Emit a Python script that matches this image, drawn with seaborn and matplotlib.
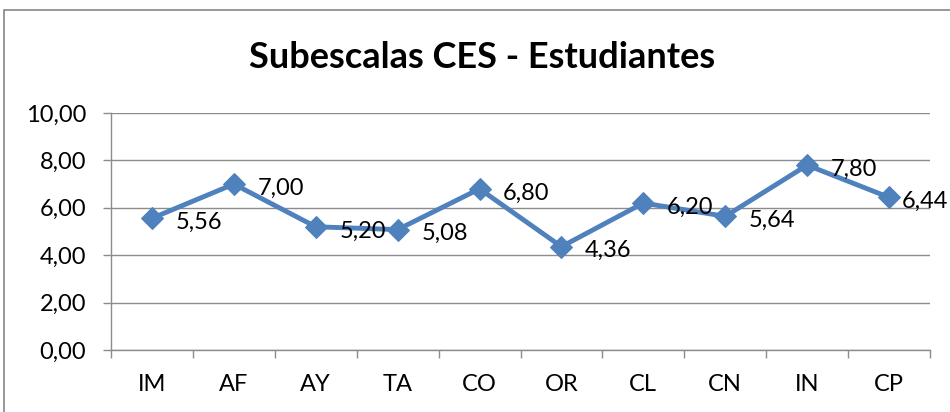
import matplotlib
matplotlib.use("Agg")
import matplotlib.pyplot as plt
import seaborn as sns
import pandas as pd
from matplotlib.patches import Rectangle
from matplotlib.ticker import FixedLocator, FuncFormatter

categories = ["IM", "AF", "AY", "TA", "CO", "OR", "CL", "CN", "IN", "CP"]
values = [5.56, 7.00, 5.20, 5.08, 6.80, 4.36, 6.20, 5.64, 7.80, 6.44]
title = "Subescalas CES - Estudiantes"

sns.set_theme(style="white")
plt.rcParams["font.family"] = ["Lato", "DejaVu Sans"]
plt.rcParams["text.color"] = "black"

df = pd.DataFrame({"cat": categories, "val": values})

fig = plt.figure(figsize=(9.5, 4.12), dpi=100)
ax = fig.add_axes([111/950, 1 - 350/412, (930-111)/950, (350-113)/412])

color = "#4F81BD"
sns.lineplot(data=df, x="cat", y="val", ax=ax, color=color, linewidth=3.5,
             marker="D", markersize=11, markeredgecolor=color, sort=False)

for i, v in enumerate(values):
    dx = 17 if i < len(values) - 1 else 9
    ax.annotate(f"{v:.2f}".replace(".", ","), (i, v), xytext=(dx, -3),
                textcoords="offset points", ha="left", va="center",
                fontsize=17, color="black", annotation_clip=False)

ax.set_xlim(-0.5, len(categories) - 0.5)
ax.set_ylim(0, 10)
ax.yaxis.set_major_locator(FixedLocator([0, 2, 4, 6, 8, 10]))
ax.yaxis.set_major_formatter(FuncFormatter(lambda y, p: f"{y:.2f}".replace(".", ",")))
ax.grid(axis="y", color="#8c8c8c", linewidth=1)
ax.grid(axis="x", visible=False)
ax.set_axisbelow(True)
ax.set_xlabel("")
ax.set_ylabel("")

ax.set_xticks(range(len(categories)))
ax.set_xticklabels(categories)
ax.set_xticks([i - 0.5 for i in range(len(categories) + 1)], minor=True)
ax.tick_params(axis="x", which="major", length=0, pad=17, labelsize=17, colors="black")
ax.tick_params(axis="x", which="minor", length=6, width=1, color="#8c8c8c", direction="out", bottom=True)
ax.tick_params(axis="y", which="major", length=6, width=1, color="#8c8c8c", direction="out", left=True,
               labelsize=17, pad=12, labelcolor="black")

for s in ["top", "right"]:
    ax.spines[s].set_visible(False)
for s in ["left", "bottom"]:
    ax.spines[s].set_color("#8c8c8c")
    ax.spines[s].set_linewidth(1)

fig.text(482/950, 1 - 57/412, title, ha="center", va="center", fontsize=26,
         fontweight="bold", color="black")

fig.patches.append(Rectangle((4/950, -0.1), 1.2, 1 - 10/412 + 0.1, transform=fig.transFigure,
                             fill=False, edgecolor="#868686", linewidth=1.2))

fig.savefig("out.png", dpi=100)
